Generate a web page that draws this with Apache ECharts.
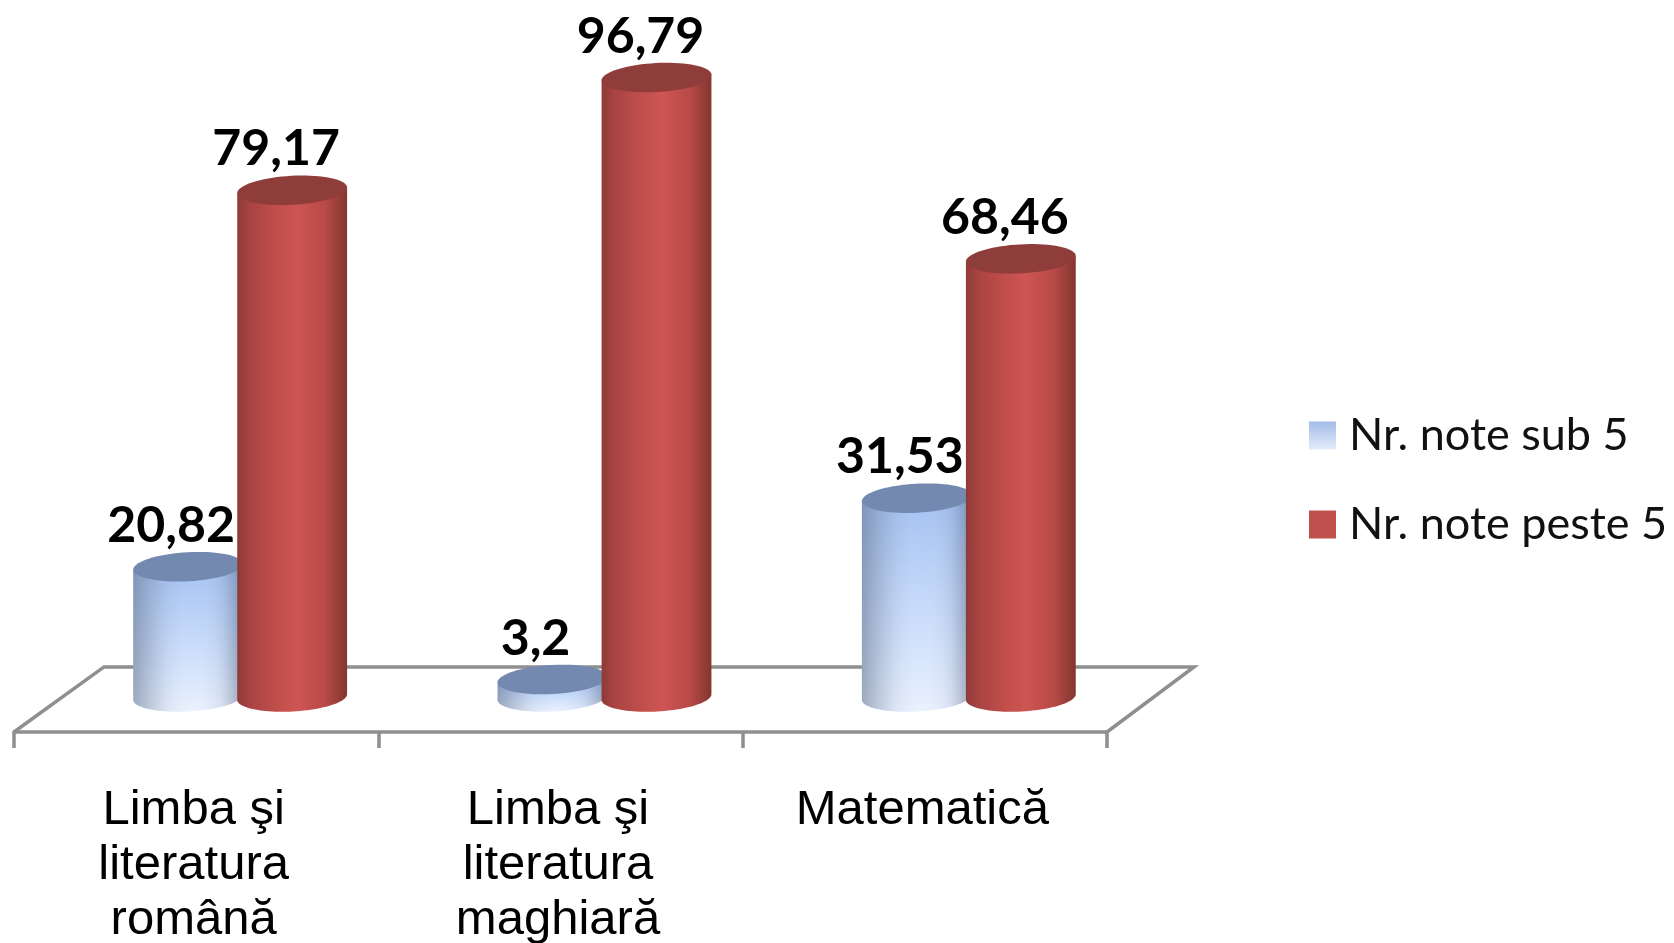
<!DOCTYPE html>
<html><head><meta charset="utf-8">
<style>html,body{margin:0;padding:0;background:#fff;overflow:hidden}#c{width:1674px;height:943px;filter:blur(0.5px)}</style>
<script src="https://cdn.jsdelivr.net/npm/echarts@6/dist/echarts.min.js"></script>
</head><body><div id="c"></div>
<script>
const categories = ['Limba şi\nliteratura\nromână', 'Limba şi\nliteratura\nmaghiară', 'Matematică'];
const seriesNames = ['Nr. note sub 5', 'Nr. note peste 5'];
const sub5 = [20.82, 3.2, 31.53];
const peste5 = [79.17, 96.79, 68.46];

const RX = 55, RY = 14.5, TILT = -0.055, DEPTH_SHIFT = 44, FLOOR_BACK = 4.7;
const grad = (x2, y2, stops) => new echarts.graphic.LinearGradient(0, 0, x2, y2,
  stops.map(s => ({offset: s[0], color: s[1]})));

function arc(cx, cy, from, to, n, tilt) {
  const pts = [];
  for (let i = 0; i <= n; i++) {
    const a = from + (to - from) * i / n;
    const ex = RX * Math.cos(a), ey = RY * Math.sin(a);
    pts.push([cx + ex * Math.cos(tilt) - ey * Math.sin(tilt), cy + ex * Math.sin(tilt) + ey * Math.cos(tilt)]);
  }
  return pts;
}

function cylinder(side, sideOverlay, topColor, barOffset, labelDx, topNudge) {
  return function (params, api) {
    const i = api.value(0), v = api.value(1);
    const top = api.coord([i, v]), base = api.coord([i, 0]);
    const cx = top[0] + DEPTH_SHIFT + barOffset;
    const ty = top[1] + topNudge;
    const outline = arc(cx, base[1], 0, Math.PI, 48, TILT).concat([[cx - RX * Math.cos(TILT), ty - RX * Math.sin(TILT)], [cx + RX * Math.cos(TILT), ty + RX * Math.sin(TILT)]]);
    const children = [{type: 'polygon', shape: {points: outline}, style: {fill: side}}];
    if (sideOverlay) children.push({type: 'polygon', shape: {points: outline}, style: {fill: sideOverlay}});
    children.push({type: 'polygon', shape: {points: arc(cx, ty, 0, 2 * Math.PI, 72, TILT)}, style: {fill: topColor}});
    children.push({type: 'text', style: {
      text: String(v).replace('.', ','), x: cx + labelDx, y: ty - 41,
      align: 'center', verticalAlign: 'middle',
      font: 'bold 50px Lato, sans-serif', fill: '#000'
    }});
    return {type: 'group', children};
  };
}

const redSide = grad(1, 0, [[0, '#8e3a38'], [0.12, '#a94442'], [0.35, '#bf4e4b'], [0.55, '#ce5553'], [0.8, '#b84a47'], [1, '#83362f']]);
const blueSide = grad(0, 1, [[0, '#a2c0f2'], [0.55, '#c9dcfb'], [1, '#eaf1fe']]);
const blueEdge = grad(1, 0, [[0, 'rgba(95,110,135,0.55)'], [0.3, 'rgba(120,135,160,0.12)'], [0.55, 'rgba(255,255,255,0)'], [0.8, 'rgba(120,135,160,0.15)'], [1, 'rgba(80,95,120,0.55)']]);

const chart = echarts.init(document.getElementById('c'), null, {renderer: 'canvas'});
chart.setOption({
  animation: false,
  backgroundColor: '#fff',
  grid: {left: 14, width: 1093, top: 57, height: 675, containLabel: false, outerBoundsMode: 'none'},
  xAxis: {
    type: 'category', data: categories, boundaryGap: true,
    axisLine: {show: true, onZero: false, lineStyle: {color: '#8f8f8f', width: 3.5}},
    axisTick: {show: true, length: 16, alignWithLabel: false, lineStyle: {color: '#8f8f8f', width: 3.5}},
    axisLabel: {color: '#000', fontFamily: 'Liberation Sans', fontSize: 49, lineHeight: 55, margin: 51, padding: [0, 5, 0, 0], interval: 0, verticalAlign: 'top'}
  },
  yAxis: {type: 'value', min: -5.47, max: 100, show: false, splitLine: {show: false}},
  legend: {
    orient: 'vertical', left: 1304, top: 408, itemWidth: 27, itemHeight: 28, itemGap: 44,
    textStyle: {fontFamily: 'Lato', fontSize: 45, color: '#111', padding: [0, 0, 0, 8]},
    data: [
      {name: seriesNames[0], icon: 'rect', itemStyle: {color: grad(0, 1, [[0, '#a3bce8'], [1, '#e3ebf9']])}},
      {name: seriesNames[1], icon: 'rect', itemStyle: {color: '#c0504d'}}
    ]
  },
  series: [
    {
      type: 'custom', silent: true, data: [[0, 0]], encode: {x: 0, y: 1},
      renderItem(params, api) {
        const fl = api.coord([0, -5.47])[1], bk = api.coord([0, FLOOR_BACK])[1];
        const w = api.size([1, 0])[0], l = api.coord([0, 0])[0] - w / 2, r = l + w * categories.length;
        return {type: 'polyline', shape: {points: [[l, fl], [l + 90, bk], [r + 87, bk], [r, fl]]},
          style: {stroke: '#8f8f8f', lineWidth: 3.5, fill: null}};
      }
    },
    {
      name: seriesNames[0], type: 'custom', clip: false, encode: {x: 0, y: 1},
      data: sub5.map((v, i) => [i, v]),
      renderItem: cylinder(blueSide, blueEdge, '#7489b0', -52, -17, 3)
    },
    {
      name: seriesNames[1], type: 'custom', clip: false, encode: {x: 0, y: 1},
      data: peste5.map((v, i) => [i, v]),
      renderItem: cylinder(redSide, null, '#8f3d3b', 52, -16, 0)
    }
  ]
});
</script></body></html>
